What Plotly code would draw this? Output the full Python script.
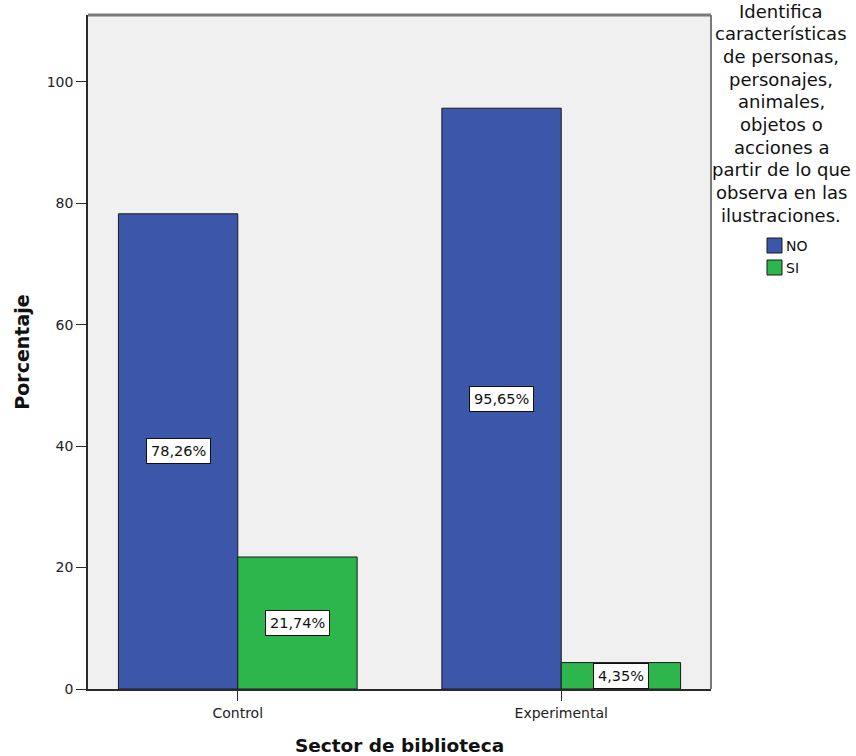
import plotly.graph_objects as go

categories = ["Control", "Experimental"]
series_names = ["NO", "SI"]
no_values = [78.26, 95.65]
si_values = [21.74, 4.35]
value_labels_no = ["78,26%", "95,65%"]
value_labels_si = ["21,74%", "4,35%"]
y_ticks = [0, 20, 40, 60, 80, 100]
legend_title_lines = ["Identifica", "características", "de personas,", "personajes,", "animales,",
                      "objetos o", "acciones a", "partir de lo que", "observa en las", "ilustraciones."]

colors = {"NO": "#3C57AA", "SI": "#2DB64B"}
FONT = "DejaVu Sans, sans-serif"
EDGE = "#1a1a1a"

PLOT_L, PLOT_T, PLOT_W, PLOT_H = 88, 15, 623, 674
FIG_W, FIG_H = 856, 756

fig = go.Figure()
fig.add_trace(go.Bar(name="NO", x=categories, y=no_values, marker=dict(color=colors["NO"], line=dict(color=EDGE, width=1))))
fig.add_trace(go.Bar(name="SI", x=categories, y=si_values, marker=dict(color=colors["SI"], line=dict(color=EDGE, width=1))))

bargap = 0.262
bw = (1 - bargap) / 2
for i, cat in enumerate(categories):
    for j, (vals, labs) in enumerate([(no_values, value_labels_no), (si_values, value_labels_si)]):
        xpos = i + (j - 0.5) * bw
        fig.add_annotation(x=xpos, y=vals[i] / 2, xref="x", yref="y", text=labs[i], showarrow=False,
                           font=dict(family=FONT, size=14.5, color="#111"), bgcolor="white",
                           bordercolor="#111", borderwidth=1, borderpad=4)

# legend title lines (right side); positions in px relative to plot top-right
for k, line in enumerate(legend_title_lines):
    fig.add_annotation(xref="paper", yref="paper", x=1, y=1, xshift=70, yshift=-(11 + 22.67 * k - PLOT_T),
                       xanchor="center", yanchor="middle", text=line, showarrow=False,
                       font=dict(family=FONT, size=18, color="#111"))

# manual legend entries
for k, name in enumerate(series_names):
    top = 238 + 22 * k
    fig.add_shape(type="rect", xref="paper", yref="paper", xanchor=1, yanchor=1,
                  xsizemode="pixel", ysizemode="pixel", x0=56, x1=71, y0=-(top + 15 - PLOT_T), y1=-(top - PLOT_T),
                  fillcolor=colors[name], line=dict(color=EDGE, width=1))
    fig.add_annotation(xref="paper", yref="paper", x=1, y=1, xshift=73, yshift=-(top + 7.5 - PLOT_T),
                       xanchor="left", yanchor="middle", text=name, showarrow=False,
                       font=dict(family=FONT, size=14, color="#111"))

# frame: top/right gray
fig.add_shape(type="line", xref="paper", yref="paper", x0=0, x1=1, y0=1, y1=1, line=dict(color="#7a7a7a", width=3), layer="above")
fig.add_shape(type="line", xref="paper", yref="paper", x0=1, x1=1, y0=0, y1=1, line=dict(color="#7a7a7a", width=2), layer="above")

fig.update_layout(
    width=FIG_W, height=FIG_H,
    margin=dict(l=PLOT_L, r=FIG_W - PLOT_L - PLOT_W, t=PLOT_T, b=FIG_H - PLOT_T - PLOT_H, autoexpand=False),
    paper_bgcolor="white", plot_bgcolor="#F0F0F0",
    barmode="group", bargap=bargap, bargroupgap=0,
    font=dict(family=FONT, size=14, color="#222"),
    showlegend=False,
)
fig.update_xaxes(range=[-0.463, 1.463], showline=True, linecolor="#2a2a2a", linewidth=1.5,
                 ticks="outside", ticklen=10, tickcolor="#2a2a2a", showgrid=False, automargin=False,
                 tickfont=dict(family=FONT, size=14, color="#222"),
                 title=dict(text="<b>Sector de biblioteca</b>", font=dict(family=FONT, size=18.5, color="#111"), standoff=24))
fig.update_yaxes(range=[0, 111], tickvals=y_ticks, showline=True, linecolor="#2a2a2a", linewidth=1.5,
                 ticks="outside", ticklen=10, tickcolor="#2a2a2a", showgrid=False, zeroline=False, automargin=False,
                 tickfont=dict(family=FONT, size=14, color="#222"),
                 title=dict(text="<b>Porcentaje</b>", font=dict(family=FONT, size=19, color="#111"), standoff=12))

fig.write_html("out.html", config={"displayModeBar": False},
               post_script="document.body.style.margin='0';document.body.style.overflow='hidden';")
